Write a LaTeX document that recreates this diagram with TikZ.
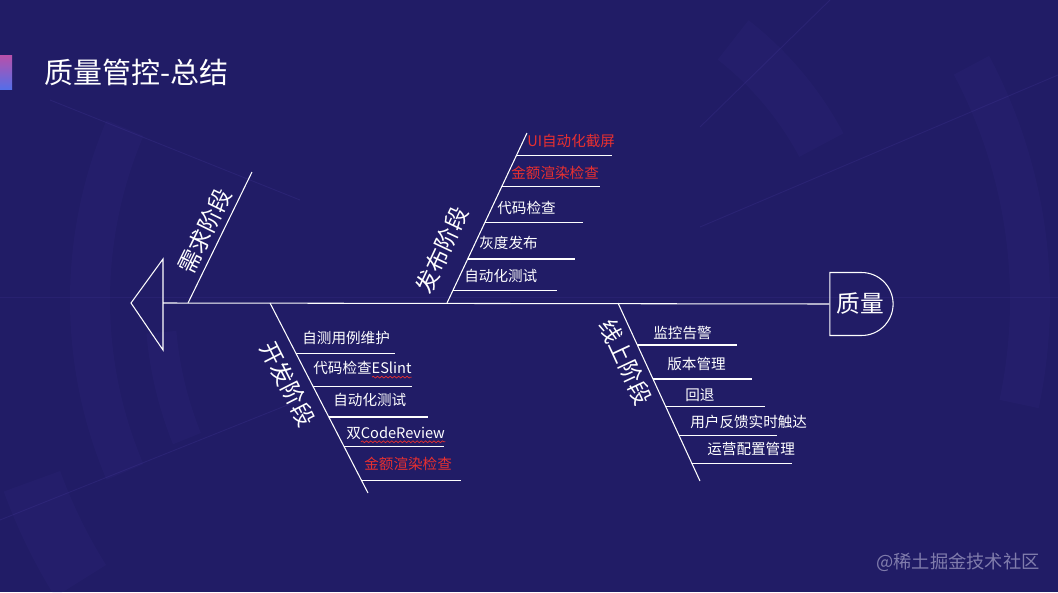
\documentclass[tikz,border=0pt]{standalone}
\usepackage{fontspec}
\setmainfont{Noto Sans CJK SC}
\usetikzlibrary{calc,shapes.misc,decorations.pathmorphing}
\definecolor{bgnavy}{RGB}{33,28,102}
\definecolor{ringtint}{RGB}{80,66,170}
\definecolor{alertred}{RGB}{232,48,48}
\definecolor{barpink}{RGB}{185,80,170}
\definecolor{barblue}{RGB}{85,110,232}
\definecolor{markgray}{RGB}{128,124,172}

\begin{document}
\begin{tikzpicture}[
    x=0.02cm, y=-0.02cm,
    bone/.style={draw=white, line width=0.6pt},
    stage/.style={text=white, inner sep=0pt, font=\fontsize{13}{15}\selectfont},
    item/.style={text=white, anchor=west, inner sep=0pt, font=\fontsize{8.3}{10}\selectfont},
    alert/.style={item, text=alertred},
    head/.style={draw=white, line width=0.6pt, rounded rectangle,
        rounded rectangle left arc=none, minimum width=1.5cm,
        minimum height=1.26cm, text=white, font=\fontsize{13.5}{15}\selectfont},
    spell/.style={draw=alertred, line width=0.4pt, decorate,
        decoration={snake, amplitude=0.5pt, segment length=2.4pt}},
    ring/.style={fill=ringtint, opacity=0.08},
    haze/.style={draw=ringtint, line width=0.5pt, opacity=0.2}
]
% background
\fill[bgnavy] (0,0) rectangle (1058,592);
\useasboundingbox (0,0) rectangle (1058,592);
\fill[ring, shift={(530,300)}] (157:420) arc[start angle=157, end angle=203, radius=420]
    -- (203:460) arc[start angle=203, end angle=157, radius=460] -- cycle;
\fill[ring, shift={(530,300)}] (-28:480) arc[start angle=-28, end angle=12, radius=480]
    -- (12:520) arc[start angle=12, end angle=-28, radius=520] -- cycle;
\fill[ring, shift={(530,300)}] (-52:305) arc[start angle=-52, end angle=-28, radius=305]
    -- (-28:355) arc[start angle=-28, end angle=-52, radius=355] -- cycle;
\fill[ring, shift={(530,300)}] (158:355) arc[start angle=158, end angle=175, radius=355]
    -- (175:385) arc[start angle=175, end angle=158, radius=385] -- cycle;
\fill[ring, shift={(530,300)}] (148:500) arc[start angle=148, end angle=160, radius=500]
    -- (160:560) arc[start angle=160, end angle=148, radius=560] -- cycle;
\draw[haze] (0,520) -- (300,400);
\draw[haze] (50,100) -- (300,200);
\draw[haze] (700,227) -- (1058,75);
\draw[haze] (700,127) -- (830,0);
\draw[haze, opacity=0.15] (0,297) -- (1058,297);

% title
\shade[top color=barpink, bottom color=barblue] (0,55) rectangle (12,89);
\node[anchor=west, text=white, inner sep=0pt, font=\fontsize{16.5}{20}\selectfont] (title) at (44,72) {质量管控-总结};

% spine
\coordinate (tailtip) at (131,303);
\coordinate (tailtop) at (163,259);
\coordinate (tailbot) at (163,350);
\coordinate (tail) at (163,303);
\draw[bone] (tailtop) -- (tailtip) -- (tailbot) -- cycle;
\node[head] (quality) at (860.5,304) {质量};
\draw[bone] (tail) -- (quality.west);

% 需求阶段
\coordinate (req0) at (188,303);
\coordinate (req1) at (252,172);
\draw[bone] (req0) -- (req1);
\node[stage, rotate=64] (req) at (205,231) {需求阶段};

% 发布阶段
\coordinate (rel0) at (447,303);
\coordinate (rel1) at (527,133);
\draw[bone] (rel0) -- (rel1);
\node[stage, rotate=65] (rel) at (442,250) {发布阶段};
\node[alert] (relA) at (527,141) {UI自动化截屏};
\node[alert] (relB) at (511,173) {金额渲染检查};
\node[item] (relC) at (497,208) {代码检查};
\node[item] (relD) at (479,243) {灰度发布};
\node[item] (relE) at (464,276) {自动化测试};
\draw[bone] ($(rel0)!.865!(rel1)$) -- ++(96,0);
\draw[bone] ($(rel0)!.688!(rel1)$) -- ++(98,0);
\draw[bone] ($(rel0)!.476!(rel1)$) -- ++(98,0);
\draw[bone] ($(rel0)!.259!(rel1)$) -- ++(107,0);
\draw[bone] ($(rel0)!.076!(rel1)$) -- ++(104,0);

% 开发阶段
\coordinate (dev0) at (270,303);
\coordinate (dev1) at (368,493);
\draw[bone] (dev0) -- (dev1);
\node[stage, rotate=-63] (dev) at (288,384) {开发阶段};
\node[item] (devA) at (302,338) {自测用例维护};
\node[item] (devB) at (313,368) {代码检查ESlint};
\node[item] (devC) at (333,400) {自动化测试};
\node[item] (devD) at (346,433) {双CodeReview};
\node[alert] (devE) at (364,464) {金额渲染检查};
\draw[bone] ($(dev0)!.268!(dev1)$) -- ++(99,0);
\draw[bone] ($(dev0)!.437!(dev1)$) -- ++(99,0);
\draw[bone] ($(dev0)!.600!(dev1)$) -- ++(99,0);
\draw[bone] ($(dev0)!.753!(dev1)$) -- ++(100,0);
\draw[bone] ($(dev0)!.932!(dev1)$) -- ++(100,0);
\draw[spell] ($(devB.south west)+(59,2)$) -- ($(devB.south east)+(0,2)$);
\draw[spell] ($(devD.south west)+(15,2)$) -- ($(devD.south east)+(0,2)$);

% 线上阶段
\coordinate (onl0) at (618,303);
\coordinate (onl1) at (700,481);
\draw[bone] (onl0) -- (onl1);
\node[stage, rotate=-65] (onl) at (626,362) {线上阶段};
\node[item] (onlA) at (653,333) {监控告警};
\node[item] (onlB) at (667,364) {版本管理};
\node[item] (onlC) at (685,395) {回退};
\node[item] (onlD) at (690,422) {用户反馈实时触达};
\node[item] (onlE) at (707,449) {运营配置管理};
\draw[bone] ($(onl0)!.236!(onl1)$) -- ++(100,0);
\draw[bone] ($(onl0)!.427!(onl1)$) -- ++(99,0);
\draw[bone] ($(onl0)!.584!(onl1)$) -- ++(99,0);
\draw[bone] ($(onl0)!.742!(onl1)$) -- ++(98,0);
\draw[bone] ($(onl0)!.899!(onl1)$) -- ++(100,0);

% watermark
\node[text=markgray, anchor=east, inner sep=0pt, font=\fontsize{10.4}{12}\selectfont] (mark) at (1040,562) {@稀土掘金技术社区};
\end{tikzpicture}
\end{document}
